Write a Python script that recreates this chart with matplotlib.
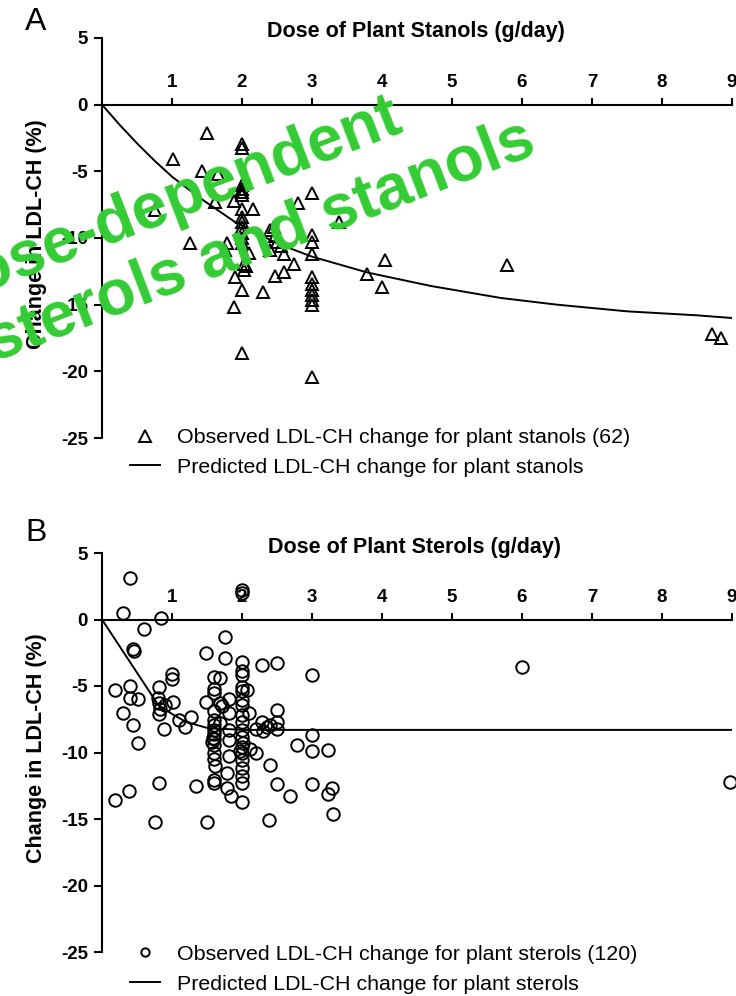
import matplotlib
matplotlib.use('Agg')
import matplotlib.pyplot as plt
from matplotlib.lines import Line2D

plt.rcParams['font.family'] = ['Liberation Sans', 'DejaVu Sans']

# ---------------------------------------------------------------------------
# Data
# ---------------------------------------------------------------------------
# Panel A: plant stanols (62 observations)
stanol_dose = [1.50, 2.00, 2.00, 1.01, 1.43, 1.66, 2.00, 2.00, 2.00, 2.00,
               3.00, 1.62, 1.89, 2.00, 2.16, 0.76, 2.00, 2.00, 2.00, 2.80,
               2.40, 2.47, 3.00, 3.38, 1.25, 1.78, 2.40, 2.60, 3.00, 2.74,
               2.03, 2.03, 1.90, 2.47, 2.60, 3.00, 3.00, 3.00, 3.00, 3.00,
               3.00, 2.00, 2.30, 1.88, 2.00, 3.00, 3.78, 4.00, 4.04, 5.78,
               8.72, 8.84, 2.00, 2.00, 2.05, 2.10, 2.50, 2.55, 1.75, 3.00,
               2.45, 2.00]
stanol_change = [-2.1, -2.95, -3.25, -4.07, -5.0, -5.2, -6.06, -6.3, -6.56, -6.8,
                 -6.6, -7.3, -7.2, -7.86, -7.86, -7.9, -8.43, -8.8, -9.2, -7.4,
                 -9.43, -9.88, -9.8, -8.8, -10.38, -10.4, -10.93, -11.18, -11.18, -11.98,
                 -11.93, -12.43, -12.92, -12.87, -12.55, -12.93, -13.42, -13.92, -14.3, -14.67,
                 -15.05, -13.87, -14.05, -15.17, -18.66, -20.41, -12.68, -13.67, -11.63, -12.05,
                 -17.17, -17.47, -10.0, -10.4, -12.1, -11.1, -10.3, -10.6, -10.9, -10.3,
                 -9.2, -9.6]
stanol_pred_dose = [0, 0.25, 0.5, 0.75, 1.0, 1.4, 1.9, 2.5, 3.0, 3.8, 4.7, 5.7,
                    6.5, 7.5, 8.5, 9.0]
stanol_pred_change = [0, -1.5, -2.9, -4.2, -5.4, -7.0, -8.8, -10.4, -11.4, -12.6,
                      -13.6, -14.5, -15.0, -15.5, -15.8, -16.0]

# Panel B: plant sterols (120 observations)
sterol_dose = [0.40, 0.30, 0.84, 0.60, 0.44, 0.45, 0.19, 0.40, 0.40, 0.51,
               0.30, 0.44, 0.51, 0.19, 0.39, 0.81, 0.75,
               0.81, 0.80, 0.82, 0.83, 0.82, 0.89, 0.90,
               1.00, 1.00, 1.01, 1.10, 1.18, 1.27, 1.34,
               1.49, 1.49, 1.50,
               1.60, 1.60, 1.60, 1.60, 1.60, 1.60, 1.60, 1.60, 1.60, 1.60,
               1.60, 1.60, 1.60, 1.58, 1.57, 1.60, 1.62,
               1.69, 1.69, 1.75, 1.75,
               1.81, 1.81, 1.81, 1.81, 1.81, 1.79, 1.79, 1.84, 1.72, 1.68,
               2.00, 2.00, 2.00, 2.00, 2.00, 2.00, 2.00, 2.00, 2.00, 2.00,
               2.00, 2.00, 2.00, 2.00, 2.00, 2.00, 2.00, 2.00, 1.97, 2.02,
               2.00, 2.00,
               2.07, 2.10, 2.12, 2.20, 2.20, 2.29, 2.29, 2.30, 2.40, 2.39,
               2.50, 2.50, 2.50, 2.50, 2.50, 2.40, 2.35, 2.69, 2.78, 3.00,
               3.00, 3.00, 3.00, 3.23, 3.29, 3.23, 3.30, 6.00, 8.97]
sterol_change = [3.1, 0.5, 0.15, -0.75, -2.2, -2.35, -5.3, -5.0, -5.9, -5.95,
                 -7.05, -7.95, -9.3, -13.6, -12.9, -12.3, -15.25,
                 -5.1, -5.9, -6.3, -6.7, -7.1, -8.25, -6.4,
                 -4.1, -4.45, -6.2, -7.55, -8.1, -7.3, -12.55,
                 -2.5, -6.2, -15.25,
                 -4.3, -5.2, -5.55, -7.55, -7.9, -8.3, -8.6, -9.0, -9.4, -10.0,
                 -10.5, -12.1, -12.3, -8.9, -9.2, -6.9, -11.0,
                 -4.4, -6.3, -1.35, -2.9,
                 -6.0, -7.05, -8.3, -9.05, -10.25, -11.55, -12.7, -13.25, -6.5, -7.8,
                 2.2, 2.0, -3.2, -3.9, -4.2, -5.05, -5.4, -6.05, -6.4, -7.7,
                 -8.3, -8.85, -9.55, -10.05, -10.55, -11.2, -11.8, -13.7, -9.9, -9.3,
                 -7.2, -12.3,
                 -5.3, -7.05, -9.7, -10.05, -8.2, -3.4, -7.7, -8.4, -10.95, -15.1,
                 -3.3, -6.8, -7.7, -8.25, -12.35, -7.9, -8.1, -13.3, -9.4, -4.15,
                 -8.7, -9.85, -12.35, -9.8, -12.7, -13.1, -14.6, -3.55, -12.2]
sterol_pred_dose = [0, 0.5, 0.8, 1.0, 1.2, 1.5, 2.0, 3.0, 9.0]
sterol_pred_change = [0, -4.0, -6.4, -7.1, -7.7, -8.15, -8.3, -8.3, -8.3]

x_ticks = [1, 2, 3, 4, 5, 6, 7, 8, 9]
y_ticks = [-25, -20, -15, -10, -5, 0, 5]
y_tick_labels = ['-25', '-20', '-15', '-10', '-5', '0', '5']

# ---------------------------------------------------------------------------
W, H = 736, 996
fig = plt.figure(figsize=(W / 100, H / 100), dpi=100)


def px_axes(left, right, top, bottom):
    return fig.add_axes([left / W, 1 - bottom / H, (right - left) / W, (bottom - top) / H])


def style_axes(ax):
    ax.set_xlim(0, 9)
    ax.set_ylim(-25, 5)
    ax.patch.set_visible(False)
    ax.spines['right'].set_visible(False)
    ax.spines['bottom'].set_visible(False)
    ax.spines['top'].set_position(('data', 0))
    for s in ('top', 'left'):
        ax.spines[s].set_linewidth(1.5)
    ax.xaxis.set_ticks_position('top')
    ax.set_xticks(x_ticks)
    ax.set_xticklabels([str(t) for t in x_ticks], fontsize=13.5, fontweight='bold')
    ax.set_yticks(y_ticks)
    ax.set_yticklabels(y_tick_labels, fontsize=13.5, fontweight='bold')
    ax.tick_params(axis='x', direction='out', length=5, width=1.5, pad=5)
    ax.tick_params(axis='y', direction='out', length=6, width=1.5, pad=4)


def add_legend(ax, marker, label_obs, label_pred, msize, y_anchor):
    handles = [
        Line2D([], [], marker=marker, ls='none', mfc='none', mec='black',
               mew=1.4, ms=msize),
        Line2D([], [], color='black', lw=1.4),
    ]
    ax.legend(handles, [label_obs, label_pred], loc='center left',
              bbox_to_anchor=(0.044, y_anchor), frameon=False, fontsize=15.4,
              handlelength=1.4, handletextpad=0.8, labelspacing=0.5,
              borderpad=0, borderaxespad=0, numpoints=1)


# Panel A -----------------------------------------------------------------
axA = px_axes(102, 732, 38, 438)
style_axes(axA)
axA.plot(stanol_pred_dose, stanol_pred_change, color='black', lw=1.4)
axA.plot(stanol_dose, stanol_change, ls='none', marker='^', mfc='none',
         mec='black', mew=1.4, ms=8.5, clip_on=False)
add_legend(axA, '^', 'Observed LDL-CH change for plant stanols (62)',
           'Predicted LDL-CH change for plant stanols', 8.5, -0.036)

# Panel B -----------------------------------------------------------------
axB = px_axes(102, 732, 553, 952)
style_axes(axB)
axB.plot(sterol_pred_dose, sterol_pred_change, color='black', lw=1.4)
axB.plot(sterol_dose, sterol_change, ls='none', marker='o', mfc='none',
         mec='black', mew=1.4, ms=9, clip_on=False)
add_legend(axB, 'o', 'Observed LDL-CH change for plant sterols (120)',
           'Predicted LDL-CH change for plant sterols', 6, -0.043)

# Figure texts ------------------------------------------------------------
def ftext(x, y, s, **kw):
    return fig.text(x / W, 1 - y / H, s, **kw)


ftext(25, 30, 'A', fontsize=23, va='baseline', ha='left')
ftext(25, 541, 'B', fontsize=23, va='baseline', ha='left')
ftext(416, 31, 'Dose of Plant Stanols (g/day)', fontsize=15.5,
      fontweight='bold', ha='center', va='center')
ftext(414, 548, 'Dose of Plant Sterols (g/day)', fontsize=15.5,
      fontweight='bold', ha='center', va='center')
ftext(37, 234, 'Change in LDL-CH (%)', fontsize=15.5, fontweight='bold',
      rotation=90, ha='center', va='center')
ftext(37, 748, 'Change in LDL-CH (%)', fontsize=15.5, fontweight='bold',
      rotation=90, ha='center', va='center')

# green overlay caption
ftext(-62, 309, 'Dose-dependent', fontsize=46, fontweight='bold',
      color='#33cc33', rotation=21, rotation_mode='anchor',
      ha='left', va='baseline', zorder=10)
ftext(-5, 362, 'sterols and stanols', fontsize=46, fontweight='bold',
      color='#33cc33', rotation=21, rotation_mode='anchor',
      ha='left', va='baseline', zorder=10)

fig.savefig('out.png', dpi=100)
